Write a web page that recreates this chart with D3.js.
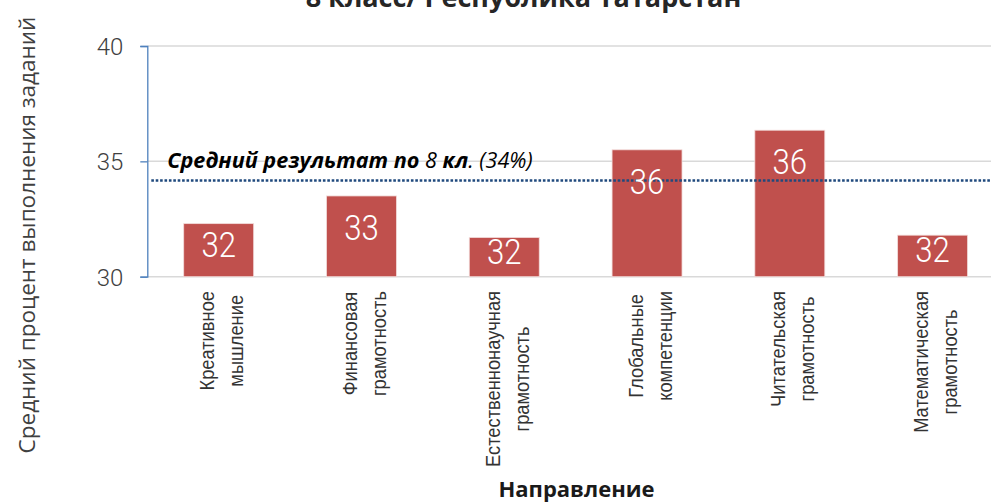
<!DOCTYPE html>
<html><head><meta charset="utf-8">
<script src="https://cdn.jsdelivr.net/npm/d3@7"></script>
<style>
html,body{margin:0;padding:0;background:#fff;}
svg{display:block;}
</style></head>
<body>
<svg id="chart" width="991" height="503"></svg>
<script>
const categories = [
  ["Креативное", "мышление"],
  ["Финансовая", "грамотность"],
  ["Естественнонаучная", "грамотность"],
  ["Глобальные", "компетенции"],
  ["Читательская", "грамотность"],
  ["Математическая", "грамотность"]
];
const values = [32.3, 33.5, 31.7, 35.5, 36.35, 31.8];
const valueLabels = ["32", "33", "32", "36", "36", "32"];
const yTicks = [30, 35, 40];
const averageValue = 34.17;
const titleText = "8 класс/ Республика Татарстан";
const yTitle = "Средний процент выполнения заданий";
const xTitle = "Направление";

const svg = d3.select("#chart");
const plot = {left: 147.3, right: 1004, top: 46, bottom: 276.7};

const keys = categories.map(c => c.join(" "));
const x = d3.scaleBand().domain(keys).range([plot.left, plot.right]).paddingInner(0.51).paddingOuter(0.255);
const y = d3.scaleLinear().domain([30, 40]).range([plot.bottom, plot.top]);

// gridlines
svg.append("g").selectAll("line").data(yTicks).join("line")
  .attr("x1", plot.left).attr("x2", plot.right)
  .attr("y1", d => y(d)).attr("y2", d => y(d))
  .attr("stroke", "#d9d9d9").attr("stroke-width", 1.5);

// bars
svg.append("g").selectAll("rect").data(values).join("rect")
  .attr("x", (d, i) => x(keys[i]))
  .attr("width", x.bandwidth())
  .attr("y", d => y(d))
  .attr("height", d => y(30) - y(d))
  .attr("fill", "#C0504D")
  .attr("stroke", "#f2dcdb").attr("stroke-width", 0.8);

// average dotted line
svg.append("line")
  .attr("x1", plot.left + 4).attr("x2", plot.right)
  .attr("y1", y(averageValue)).attr("y2", y(averageValue))
  .attr("stroke", "#1F497D").attr("stroke-width", 2.6)
  .attr("stroke-dasharray", "2.6,1.8");

// value labels
svg.append("g").selectAll("text").data(values).join("text")
  .attr("transform", (d, i) => {
    const cx = x(keys[i]) + x.bandwidth() / 2;
    const top = y(d), bot = y(30);
    const base = Math.min(top + 44, (top + bot) / 2 + 6.5);
    return `translate(${cx},${base}) scale(0.89,1)`;
  })
  .attr("text-anchor", "middle")
  .attr("font-family", "Roboto, sans-serif").attr("font-weight", 300)
  .attr("font-size", 35).attr("fill", "#fff")
  .text((d, i) => valueLabels[i]);

// y axis
const yAxis = d3.axisLeft(y).tickValues(yTicks).tickSize(7).tickPadding(17).tickFormat(d3.format("d"));
const yg = svg.append("g").attr("transform", `translate(${plot.left},0)`).call(yAxis);
yg.select(".domain").attr("stroke", "#4F81BD").attr("stroke-width", 1.3);
yg.selectAll(".tick line").attr("stroke", "#4F81BD").attr("stroke-width", 1.3);
yg.selectAll(".tick text").attr("font-family", "Roboto, sans-serif").attr("font-weight", 300)
  .attr("font-size", 24).attr("fill", "#404040").attr("dy", "0.36em");

// category labels (narrow sans emulated by horizontal compression along the text)
const catFont = "'Liberation Sans', Arial, sans-serif";
const cg = svg.append("g");
const labelGroups = categories.map((lines, i) => {
  const g = cg.append("g");
  const texts = lines.map(t => g.append("text")
    .attr("font-family", catFont).attr("font-size", 21).attr("fill", "#333333")
    .attr("text-anchor", "middle").text(t));
  return texts;
});
const longest = d3.max(labelGroups.flat(), t => t.node().getComputedTextLength());
const squeeze = 176 / longest;
labelGroups.forEach((texts, i) => {
  const cx = x(keys[i]) + x.bandwidth() / 2;
  const maxLen = d3.max(texts, t => t.node().getComputedTextLength()) * squeeze;
  const cy = 291 + maxLen / 2;
  const lh = 29;
  texts.forEach((t, j) => {
    const off = (j - (texts.length - 1) / 2) * lh;
    t.attr("transform", `translate(${cx + off + 10},${cy}) rotate(-90) scale(${squeeze},1)`);
  });
});

// average annotation
const ann = svg.append("text").attr("x", 167.3).attr("y", 167.7)
  .attr("font-family", "'Open Sans', sans-serif").attr("font-size", 21.6).attr("font-style", "italic").attr("fill", "#000");
ann.append("tspan").attr("font-weight", 700).text("Средний результат по ");
ann.append("tspan").attr("font-weight", 400).text("8");
ann.append("tspan").attr("font-weight", 700).text(" кл");
ann.append("tspan").attr("font-weight", 400).text(". (34%)");

// title
svg.append("text").attr("x", 523.5).attr("y", 6.5).attr("text-anchor", "middle")
  .attr("font-family", "'Open Sans', sans-serif").attr("font-weight", 700).attr("font-size", 27)
  .attr("fill", "#262626").text(titleText);

// axis titles
svg.append("text").attr("transform", `translate(${35},${235}) rotate(-90)`).attr("text-anchor", "middle")
  .attr("font-family", "'Open Sans', sans-serif").attr("font-size", 22.5).attr("fill", "#404040").text(yTitle);
svg.append("text").attr("x", 576.5).attr("y", 496.7).attr("text-anchor", "middle")
  .attr("font-family", "'Open Sans', sans-serif").attr("font-weight", 700).attr("font-size", 22)
  .attr("fill", "#1a1a1a").text(xTitle);
</script>
</body></html>
